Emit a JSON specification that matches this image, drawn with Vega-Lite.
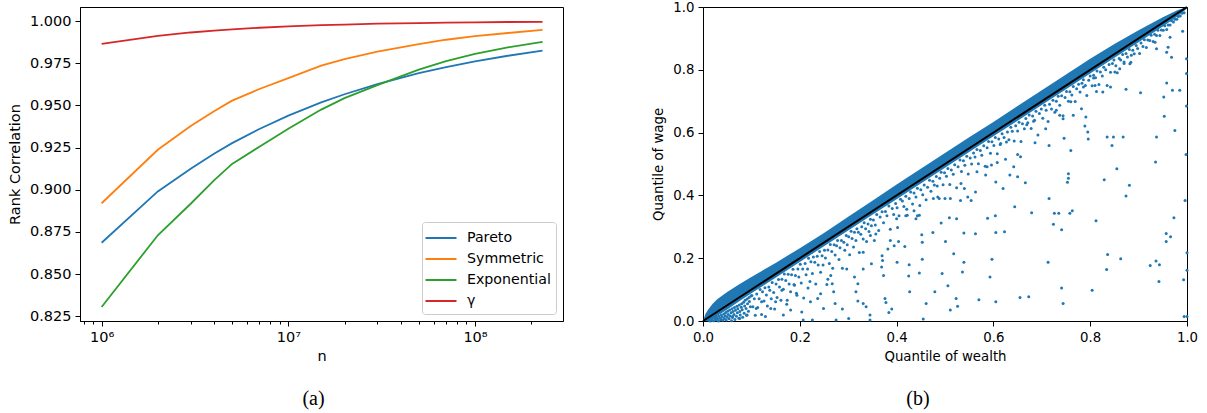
{
  "$schema": "https://vega.github.io/schema/vega-lite/v6.json",
  "background": "white",
  "padding": {"left": 6, "top": -1, "right": 5, "bottom": 5},
  "bounds": "flush",
  "spacing": 140,
  "resolve": {"scale": {"color": "independent"}, "legend": {"color": "independent"}},
  "config": {
    "font": "DejaVu Sans",
    "view": {"stroke": "black", "strokeWidth": 1},
    "axis": {
      "grid": false,
      "domainColor": "black",
      "domainWidth": 1,
      "tickColor": "black",
      "tickWidth": 1,
      "tickSize": 5,
      "labelColor": "black",
      "titleColor": "black",
      "labelFont": "DejaVu Sans",
      "titleFont": "DejaVu Sans",
      "labelFontSize": 13.3,
      "titleFontSize": 13.3,
      "titleFontWeight": "normal",
      "labelPadding": 4,
      "labelFlush": false,
      "labelOverlap": false
    },
    "title": {
      "font": "Liberation Serif",
      "fontSize": 20,
      "fontWeight": "normal",
      "color": "black",
      "orient": "bottom",
      "anchor": "middle",
      "offset": 26
    }
  },
  "hconcat": [
    {
      "width": 483,
      "height": 314,
      "title": {"text": "(a)", "dx": -8},
      "data": {
        "values": [
          {"n": 1000000, "v": 0.8686, "s": "Pareto"},
          {"n": 2000000, "v": 0.899, "s": "Pareto"},
          {"n": 3000000, "v": 0.9125, "s": "Pareto"},
          {"n": 4000000, "v": 0.9213, "s": "Pareto"},
          {"n": 5000000, "v": 0.9276, "s": "Pareto"},
          {"n": 7000000, "v": 0.936, "s": "Pareto"},
          {"n": 10000000, "v": 0.9439, "s": "Pareto"},
          {"n": 15000000, "v": 0.9518, "s": "Pareto"},
          {"n": 20000000, "v": 0.9566, "s": "Pareto"},
          {"n": 30000000, "v": 0.9626, "s": "Pareto"},
          {"n": 50000000, "v": 0.9691, "s": "Pareto"},
          {"n": 70000000, "v": 0.9727, "s": "Pareto"},
          {"n": 100000000, "v": 0.9761, "s": "Pareto"},
          {"n": 150000000, "v": 0.9794, "s": "Pareto"},
          {"n": 230000000, "v": 0.9824, "s": "Pareto"},
          {"n": 1000000, "v": 0.892, "s": "Symmetric"},
          {"n": 2000000, "v": 0.9237, "s": "Symmetric"},
          {"n": 3000000, "v": 0.9378, "s": "Symmetric"},
          {"n": 4000000, "v": 0.9465, "s": "Symmetric"},
          {"n": 5000000, "v": 0.9528, "s": "Symmetric"},
          {"n": 7000000, "v": 0.9597, "s": "Symmetric"},
          {"n": 10000000, "v": 0.9662, "s": "Symmetric"},
          {"n": 15000000, "v": 0.9735, "s": "Symmetric"},
          {"n": 20000000, "v": 0.9774, "s": "Symmetric"},
          {"n": 30000000, "v": 0.9819, "s": "Symmetric"},
          {"n": 50000000, "v": 0.9863, "s": "Symmetric"},
          {"n": 70000000, "v": 0.9889, "s": "Symmetric"},
          {"n": 100000000, "v": 0.991, "s": "Symmetric"},
          {"n": 150000000, "v": 0.9929, "s": "Symmetric"},
          {"n": 230000000, "v": 0.9947, "s": "Symmetric"},
          {"n": 1000000, "v": 0.8305, "s": "Exponential"},
          {"n": 2000000, "v": 0.873, "s": "Exponential"},
          {"n": 3000000, "v": 0.8917, "s": "Exponential"},
          {"n": 4000000, "v": 0.9056, "s": "Exponential"},
          {"n": 5000000, "v": 0.9153, "s": "Exponential"},
          {"n": 7000000, "v": 0.9255, "s": "Exponential"},
          {"n": 10000000, "v": 0.9362, "s": "Exponential"},
          {"n": 15000000, "v": 0.9475, "s": "Exponential"},
          {"n": 20000000, "v": 0.9543, "s": "Exponential"},
          {"n": 30000000, "v": 0.962, "s": "Exponential"},
          {"n": 50000000, "v": 0.9712, "s": "Exponential"},
          {"n": 70000000, "v": 0.9762, "s": "Exponential"},
          {"n": 100000000, "v": 0.9805, "s": "Exponential"},
          {"n": 150000000, "v": 0.9844, "s": "Exponential"},
          {"n": 230000000, "v": 0.9876, "s": "Exponential"},
          {"n": 1000000, "v": 0.9865, "s": "γ"},
          {"n": 2000000, "v": 0.9912, "s": "γ"},
          {"n": 3000000, "v": 0.9932, "s": "γ"},
          {"n": 4000000, "v": 0.9943, "s": "γ"},
          {"n": 5000000, "v": 0.995, "s": "γ"},
          {"n": 7000000, "v": 0.996, "s": "γ"},
          {"n": 10000000, "v": 0.9968, "s": "γ"},
          {"n": 15000000, "v": 0.9975, "s": "γ"},
          {"n": 20000000, "v": 0.9979, "s": "γ"},
          {"n": 30000000, "v": 0.9984, "s": "γ"},
          {"n": 50000000, "v": 0.9988, "s": "γ"},
          {"n": 70000000, "v": 0.999, "s": "γ"},
          {"n": 100000000, "v": 0.9992, "s": "γ"},
          {"n": 150000000, "v": 0.9994, "s": "γ"},
          {"n": 230000000, "v": 0.9995, "s": "γ"}
        ]
      },
      "mark": {"type": "line", "strokeWidth": 1.8, "clip": true},
      "encoding": {
        "x": {
          "field": "n",
          "type": "quantitative",
          "scale": {"type": "log", "domain": [766000, 296000000], "nice": false},
          "axis": {
            "title": "n",
            "titlePadding": 6,
            "labelFontSize": 14.5,
            "titleFontSize": 14.5,
            "values": [800000, 900000, 1000000, 2000000, 3000000, 4000000, 5000000, 6000000, 7000000, 8000000, 9000000, 10000000, 20000000, 30000000, 40000000, 50000000, 60000000, 70000000, 80000000, 90000000, 100000000, 200000000],
            "labelExpr": "datum.value == 1000000 ? '10⁶' : datum.value == 10000000 ? '10⁷' : datum.value == 100000000 ? '10⁸' : ''",
            "tickSize": {"condition": {"test": "datum.value == 1000000 || datum.value == 10000000 || datum.value == 100000000", "value": 5}, "value": 3}
          }
        },
        "y": {
          "field": "v",
          "type": "quantitative",
          "scale": {"domain": [0.8222, 1.0083], "nice": false, "zero": false},
          "axis": {
            "title": "Rank Correlation",
            "titlePadding": 7,
            "labelFontSize": 14.5,
            "titleFontSize": 14.5,
            "values": [0.825, 0.85, 0.875, 0.9, 0.925, 0.95, 0.975, 1.0],
            "format": ".3f"
          }
        },
        "color": {
          "field": "s",
          "type": "nominal",
          "scale": {
            "domain": ["Pareto", "Symmetric", "Exponential", "γ"],
            "range": ["#1f77b4", "#ff7f0e", "#2ca02c", "#d62728"]
          },
          "legend": {
            "title": null,
            "orient": "bottom-right",
            "offset": 7,
            "padding": 5,
            "strokeColor": "#cccccc",
            "fillColor": "rgba(255,255,255,0.8)",
            "cornerRadius": 3,
            "labelFont": "DejaVu Sans",
            "labelFontSize": 14.2,
            "labelColor": "black",
            "labelOffset": 15,
            "symbolType": "M-1.55,0H1.55",
            "symbolSize": 400,
            "symbolOffset": 3,
            "symbolStrokeWidth": 2,
            "rowPadding": 2
          }
        }
      }
    },
    {
      "width": 484,
      "height": 314,
      "title": {"text": "(b)", "dx": -27},
      "layer": [
        {
          "data": {
            "values": [
              {"wealth": 0, "top": 0, "bottom": 0},
              {"wealth": 0.005, "top": 0.022, "bottom": 0},
              {"wealth": 0.01, "top": 0.035, "bottom": 0},
              {"wealth": 0.02, "top": 0.055, "bottom": 0.006},
              {"wealth": 0.03, "top": 0.07, "bottom": 0.017},
              {"wealth": 0.05, "top": 0.092, "bottom": 0.037},
              {"wealth": 0.075, "top": 0.117, "bottom": 0.063},
              {"wealth": 0.1, "top": 0.14, "bottom": 0.088},
              {"wealth": 0.15, "top": 0.185, "bottom": 0.138},
              {"wealth": 0.2, "top": 0.232, "bottom": 0.188},
              {"wealth": 0.25, "top": 0.28, "bottom": 0.238},
              {"wealth": 0.3, "top": 0.332, "bottom": 0.288},
              {"wealth": 0.35, "top": 0.383, "bottom": 0.338},
              {"wealth": 0.4, "top": 0.435, "bottom": 0.388},
              {"wealth": 0.45, "top": 0.485, "bottom": 0.438},
              {"wealth": 0.5, "top": 0.535, "bottom": 0.488},
              {"wealth": 0.55, "top": 0.585, "bottom": 0.538},
              {"wealth": 0.6, "top": 0.634, "bottom": 0.588},
              {"wealth": 0.65, "top": 0.685, "bottom": 0.638},
              {"wealth": 0.7, "top": 0.735, "bottom": 0.688},
              {"wealth": 0.75, "top": 0.785, "bottom": 0.738},
              {"wealth": 0.8, "top": 0.835, "bottom": 0.788},
              {"wealth": 0.85, "top": 0.882, "bottom": 0.838},
              {"wealth": 0.9, "top": 0.926, "bottom": 0.888},
              {"wealth": 0.95, "top": 0.967, "bottom": 0.938},
              {"wealth": 0.98, "top": 0.99, "bottom": 0.97},
              {"wealth": 1.0, "top": 1.0, "bottom": 0.995}
            ]
          },
          "mark": {"type": "area", "color": "#1f77b4", "opacity": 1},
          "encoding": {
            "x": {"field": "wealth", "type": "quantitative"},
            "y": {"field": "top", "type": "quantitative"},
            "y2": {"field": "bottom"}
          }
        },
        {
          "data": {
            "values": [
              {"wealth": 0.973, "wage": 0.329}, {"wealth": 0.957, "wage": 0.279}, {"wealth": 0.957, "wage": 0.253}, {"wealth": 0.966, "wage": 0.268},
              {"wealth": 1.0, "wage": 0.217}, {"wealth": 0.993, "wage": 0.131}, {"wealth": 1.0, "wage": 0.162}, {"wealth": 0.994, "wage": 0.014},
              {"wealth": 1.0, "wage": 0.014}, {"wealth": 0.943, "wage": 0.179}, {"wealth": 0.924, "wage": 0.177}, {"wealth": 0.936, "wage": 0.191},
              {"wealth": 0.942, "wage": 0.126}, {"wealth": 0.863, "wage": 0.198}, {"wealth": 0.836, "wage": 0.212}, {"wealth": 0.812, "wage": 0.319},
              {"wealth": 0.834, "wage": 0.164}, {"wealth": 0.804, "wage": 0.098}, {"wealth": 0.763, "wage": 0.351}, {"wealth": 0.758, "wage": 0.343},
              {"wealth": 0.741, "wage": 0.291}, {"wealth": 0.724, "wage": 0.308}, {"wealth": 0.726, "wage": 0.343}, {"wealth": 0.735, "wage": 0.343},
              {"wealth": 0.679, "wage": 0.345}, {"wealth": 0.713, "wage": 0.187}, {"wealth": 0.741, "wage": 0.105}, {"wealth": 0.744, "wage": 0.056},
              {"wealth": 0.673, "wage": 0.077}, {"wealth": 0.655, "wage": 0.075}, {"wealth": 0.644, "wage": 0.364}, {"wealth": 0.623, "wage": 0.284},
              {"wealth": 0.605, "wage": 0.282}, {"wealth": 0.605, "wage": 0.061}, {"wealth": 0.604, "wage": 0.335}, {"wealth": 0.588, "wage": 0.327},
              {"wealth": 0.597, "wage": 0.197}, {"wealth": 0.593, "wage": 0.14}, {"wealth": 0.57, "wage": 0.068}, {"wealth": 0.563, "wage": 0.278},
              {"wealth": 0.539, "wage": 0.28}, {"wealth": 0.539, "wage": 0.187}, {"wealth": 0.536, "wage": 0.156}, {"wealth": 0.524, "wage": 0.326},
              {"wealth": 0.518, "wage": 0.214}, {"wealth": 0.523, "wage": 0.072}, {"wealth": 0.526, "wage": 0.047}, {"wealth": 0.511, "wage": 0.035},
              {"wealth": 0.509, "wage": 0.329}, {"wealth": 0.506, "wage": 0.112}, {"wealth": 0.501, "wage": 0.253}, {"wealth": 0.494, "wage": 0.151},
              {"wealth": 0.492, "wage": 0.312}, {"wealth": 0.479, "wage": 0.093}, {"wealth": 0.475, "wage": 0.282}, {"wealth": 0.461, "wage": 0.056},
              {"wealth": 0.455, "wage": 0.006}, {"wealth": 0.453, "wage": 0.197}, {"wealth": 0.453, "wage": 0.251}, {"wealth": 0.452, "wage": 0.275},
              {"wealth": 0.447, "wage": 0.153}, {"wealth": 0.448, "wage": 0.368}, {"wealth": 0.436, "wage": 0.351}, {"wealth": 0.426, "wage": 0.179},
              {"wealth": 0.427, "wage": 0.093}, {"wealth": 0.425, "wage": 0.143}, {"wealth": 0.443, "wage": 0.335}, {"wealth": 0.419, "wage": 0.335},
              {"wealth": 0.44, "wage": 0.326}, {"wealth": 0.421, "wage": 0.356}, {"wealth": 0.417, "wage": 0.237}, {"wealth": 0.401, "wage": 0.187},
              {"wealth": 0.404, "wage": 0.253}, {"wealth": 0.402, "wage": 0.298}, {"wealth": 0.4, "wage": 0.326}, {"wealth": 0.395, "wage": 0.24},
              {"wealth": 0.39, "wage": 0.038}, {"wealth": 0.387, "wage": 0.256}, {"wealth": 0.382, "wage": 0.229}, {"wealth": 0.378, "wage": 0.059},
              {"wealth": 0.376, "wage": 0.072}, {"wealth": 0.384, "wage": 0.027}, {"wealth": 0.373, "wage": 0.145}, {"wealth": 0.369, "wage": 0.172},
              {"wealth": 0.37, "wage": 0.208}, {"wealth": 0.371, "wage": 0.193}, {"wealth": 0.345, "wage": 0.003}, {"wealth": 0.345, "wage": 0.019},
              {"wealth": 0.337, "wage": 0.045}, {"wealth": 0.331, "wage": 0.056}, {"wealth": 0.32, "wage": 0.064}, {"wealth": 0.32, "wage": 0.119},
              {"wealth": 0.331, "wage": 0.166}, {"wealth": 0.348, "wage": 0.182}, {"wealth": 0.354, "wage": 0.256}, {"wealth": 0.357, "wage": 0.277},
              {"wealth": 0.346, "wage": 0.272}, {"wealth": 0.331, "wage": 0.219}, {"wealth": 0.316, "wage": 0.093}, {"wealth": 0.313, "wage": 0.14},
              {"wealth": 0.297, "wage": 0.166}, {"wealth": 0.301, "wage": 0.008}, {"wealth": 0.288, "wage": 0.038}, {"wealth": 0.275, "wage": 0.003},
              {"wealth": 0.273, "wage": 0.056}, {"wealth": 0.27, "wage": 0.093}, {"wealth": 0.264, "wage": 0.145}, {"wealth": 0.267, "wage": 0.119},
              {"wealth": 0.258, "wage": 0.133}, {"wealth": 0.249, "wage": 0.04}, {"wealth": 0.243, "wage": 0.087}, {"wealth": 0.237, "wage": 0.072},
              {"wealth": 0.226, "wage": 0.003}, {"wealth": 0.222, "wage": 0.061}, {"wealth": 0.217, "wage": 0.105}, {"wealth": 0.207, "wage": 0.003},
              {"wealth": 0.204, "wage": 0.029}, {"wealth": 0.194, "wage": 0.082}, {"wealth": 0.189, "wage": 0.114}, {"wealth": 0.181, "wage": 0.035},
              {"wealth": 0.174, "wage": 0.066}, {"wealth": 0.166, "wage": 0.019}, {"wealth": 0.163, "wage": 0.098}, {"wealth": 0.15, "wage": 0.061},
              {"wealth": 0.14, "wage": 0.04}, {"wealth": 0.129, "wage": 0.014}, {"wealth": 0.121, "wage": 0.061}, {"wealth": 0.11, "wage": 0.04},
              {"wealth": 0.091, "wage": 0.019}, {"wealth": 0.076, "wage": 0.008}, {"wealth": 0.061, "wage": 0.014},
              {"wealth": 0.991, "wage": 0.923}, {"wealth": 0.999, "wage": 0.835}, {"wealth": 0.999, "wage": 0.788}, {"wealth": 0.999, "wage": 0.685},
              {"wealth": 0.998, "wage": 0.53}, {"wealth": 0.996, "wage": 0.384}, {"wealth": 0.985, "wage": 0.735}, {"wealth": 0.97, "wage": 0.735},
              {"wealth": 0.975, "wage": 0.607}, {"wealth": 0.958, "wage": 0.758}, {"wealth": 0.952, "wage": 0.713}, {"wealth": 0.953, "wage": 0.652},
              {"wealth": 0.937, "wage": 0.586}, {"wealth": 0.935, "wage": 0.506}, {"wealth": 0.961, "wage": 0.872}, {"wealth": 0.965, "wage": 0.904},
              {"wealth": 0.958, "wage": 0.856}, {"wealth": 0.968, "wage": 0.84}, {"wealth": 0.934, "wage": 0.888}, {"wealth": 0.937, "wage": 0.867},
              {"wealth": 0.904, "wage": 0.727}, {"wealth": 0.874, "wage": 0.738}, {"wealth": 0.881, "wage": 0.432}, {"wealth": 0.874, "wage": 0.398},
              {"wealth": 0.829, "wage": 0.45}, {"wealth": 0.855, "wage": 0.485}, {"wealth": 0.848, "wage": 0.586}, {"wealth": 0.868, "wage": 0.586},
              {"wealth": 0.835, "wage": 0.586}, {"wealth": 0.845, "wage": 0.559}, {"wealth": 0.882, "wage": 0.819}, {"wealth": 0.885, "wage": 0.846},
              {"wealth": 0.87, "wage": 0.825}, {"wealth": 0.861, "wage": 0.803}, {"wealth": 0.851, "wage": 0.793}, {"wealth": 0.842, "wage": 0.745},
              {"wealth": 0.826, "wage": 0.729}, {"wealth": 0.813, "wage": 0.731}, {"wealth": 0.81, "wage": 0.75}, {"wealth": 0.807, "wage": 0.774},
              {"wealth": 0.786, "wage": 0.745}, {"wealth": 0.782, "wage": 0.676}, {"wealth": 0.791, "wage": 0.65}, {"wealth": 0.789, "wage": 0.621},
              {"wealth": 0.795, "wage": 0.602}, {"wealth": 0.796, "wage": 0.58}, {"wealth": 0.765, "wage": 0.655}, {"wealth": 0.76, "wage": 0.698},
              {"wealth": 0.744, "wage": 0.644}, {"wealth": 0.746, "wage": 0.582}, {"wealth": 0.76, "wage": 0.543}, {"wealth": 0.755, "wage": 0.469},
              {"wealth": 0.755, "wage": 0.455}, {"wealth": 0.753, "wage": 0.442}, {"wealth": 0.715, "wage": 0.559}, {"wealth": 0.708, "wage": 0.612},
              {"wealth": 0.715, "wage": 0.39}, {"wealth": 0.73, "wage": 0.671}, {"wealth": 0.737, "wage": 0.655}, {"wealth": 0.683, "wage": 0.636},
              {"wealth": 0.686, "wage": 0.568}, {"wealth": 0.669, "wage": 0.625}, {"wealth": 0.666, "wage": 0.44}, {"wealth": 0.656, "wage": 0.523},
              {"wealth": 0.65, "wage": 0.53}, {"wealth": 0.642, "wage": 0.491}, {"wealth": 0.65, "wage": 0.459}, {"wealth": 0.62, "wage": 0.422},
              {"wealth": 0.634, "wage": 0.465}, {"wealth": 0.614, "wage": 0.562}, {"wealth": 0.627, "wage": 0.57}, {"wealth": 0.605, "wage": 0.443},
              {"wealth": 0.608, "wage": 0.505}, {"wealth": 0.596, "wage": 0.497}, {"wealth": 0.587, "wage": 0.491}, {"wealth": 0.584, "wage": 0.465},
              {"wealth": 0.563, "wage": 0.411}, {"wealth": 0.566, "wage": 0.475}, {"wealth": 0.554, "wage": 0.384}, {"wealth": 0.547, "wage": 0.395},
              {"wealth": 0.54, "wage": 0.422}, {"wealth": 0.533, "wage": 0.438}, {"wealth": 0.532, "wage": 0.384}, {"wealth": 0.511, "wage": 0.39},
              {"wealth": 0.5, "wage": 0.39}, {"wealth": 0.484, "wage": 0.43}, {"wealth": 0.476, "wage": 0.39}, {"wealth": 0.488, "wage": 0.39},
              {"wealth": 0.012, "wage": 0.002}, {"wealth": 0.015, "wage": 0.0}, {"wealth": 0.018, "wage": 0.004}, {"wealth": 0.021, "wage": 0.001},
              {"wealth": 0.024, "wage": 0.008}, {"wealth": 0.026, "wage": 0.003}, {"wealth": 0.028, "wage": 0.012}, {"wealth": 0.03, "wage": 0.006},
              {"wealth": 0.032, "wage": 0.0}, {"wealth": 0.033, "wage": 0.015}, {"wealth": 0.035, "wage": 0.009}, {"wealth": 0.037, "wage": 0.004},
              {"wealth": 0.038, "wage": 0.019}, {"wealth": 0.04, "wage": 0.013}, {"wealth": 0.041, "wage": 0.002}, {"wealth": 0.043, "wage": 0.022},
              {"wealth": 0.044, "wage": 0.008}, {"wealth": 0.046, "wage": 0.017}, {"wealth": 0.047, "wage": 0.027}, {"wealth": 0.048, "wage": 0.003},
              {"wealth": 0.05, "wage": 0.012}, {"wealth": 0.051, "wage": 0.031}, {"wealth": 0.052, "wage": 0.021}, {"wealth": 0.054, "wage": 0.007},
              {"wealth": 0.055, "wage": 0.035}, {"wealth": 0.056, "wage": 0.016}, {"wealth": 0.058, "wage": 0.026}, {"wealth": 0.059, "wage": 0.001},
              {"wealth": 0.06, "wage": 0.039}, {"wealth": 0.061, "wage": 0.011}, {"wealth": 0.062, "wage": 0.03}, {"wealth": 0.064, "wage": 0.021},
              {"wealth": 0.065, "wage": 0.043}, {"wealth": 0.066, "wage": 0.005}, {"wealth": 0.067, "wage": 0.034}, {"wealth": 0.069, "wage": 0.015},
              {"wealth": 0.07, "wage": 0.047}, {"wealth": 0.071, "wage": 0.026}, {"wealth": 0.072, "wage": 0.039}, {"wealth": 0.074, "wage": 0.009},
              {"wealth": 0.075, "wage": 0.051}, {"wealth": 0.076, "wage": 0.03}, {"wealth": 0.077, "wage": 0.019}, {"wealth": 0.079, "wage": 0.044},
              {"wealth": 0.08, "wage": 0.055}, {"wealth": 0.081, "wage": 0.036}, {"wealth": 0.082, "wage": 0.012}, {"wealth": 0.084, "wage": 0.06},
              {"wealth": 0.085, "wage": 0.025}, {"wealth": 0.086, "wage": 0.048}, {"wealth": 0.087, "wage": 0.066}, {"wealth": 0.089, "wage": 0.04},
              {"wealth": 0.09, "wage": 0.018}, {"wealth": 0.091, "wage": 0.07}, {"wealth": 0.092, "wage": 0.055}, {"wealth": 0.094, "wage": 0.031},
              {"wealth": 0.095, "wage": 0.075}, {"wealth": 0.096, "wage": 0.062}, {"wealth": 0.098, "wage": 0.045}, {"wealth": 0.099, "wage": 0.08},
              {"wealth": 0.101, "wage": 0.081}, {"wealth": 0.103, "wage": 0.045}, {"wealth": 0.106, "wage": 0.071}, {"wealth": 0.108, "wage": 0.018},
              {"wealth": 0.111, "wage": 0.086}, {"wealth": 0.113, "wage": 0.043}, {"wealth": 0.116, "wage": 0.071}, {"wealth": 0.118, "wage": 0.1},
              {"wealth": 0.121, "wage": 0.021}, {"wealth": 0.123, "wage": 0.093}, {"wealth": 0.126, "wage": 0.064}, {"wealth": 0.128, "wage": 0.106},
              {"wealth": 0.131, "wage": 0.083}, {"wealth": 0.133, "wage": 0.048}, {"wealth": 0.136, "wage": 0.108}, {"wealth": 0.138, "wage": 0.098},
              {"wealth": 0.141, "wage": 0.071}, {"wealth": 0.143, "wage": 0.123}, {"wealth": 0.146, "wage": 0.091}, {"wealth": 0.148, "wage": 0.038},
              {"wealth": 0.151, "wage": 0.118}, {"wealth": 0.153, "wage": 0.075}, {"wealth": 0.156, "wage": 0.132}, {"wealth": 0.158, "wage": 0.108},
              {"wealth": 0.161, "wage": 0.066}, {"wealth": 0.163, "wage": 0.133}, {"wealth": 0.166, "wage": 0.101}, {"wealth": 0.168, "wage": 0.15},
              {"wealth": 0.171, "wage": 0.129}, {"wealth": 0.173, "wage": 0.053}, {"wealth": 0.176, "wage": 0.149}, {"wealth": 0.178, "wage": 0.118},
              {"wealth": 0.181, "wage": 0.093}, {"wealth": 0.183, "wage": 0.147}, {"wealth": 0.186, "wage": 0.165}, {"wealth": 0.188, "wage": 0.116},
              {"wealth": 0.191, "wage": 0.145}, {"wealth": 0.193, "wage": 0.088}, {"wealth": 0.196, "wage": 0.166}, {"wealth": 0.198, "wage": 0.14},
              {"wealth": 0.201, "wage": 0.181}, {"wealth": 0.203, "wage": 0.121}, {"wealth": 0.206, "wage": 0.166}, {"wealth": 0.208, "wage": 0.073},
              {"wealth": 0.211, "wage": 0.183}, {"wealth": 0.213, "wage": 0.147}, {"wealth": 0.216, "wage": 0.166}, {"wealth": 0.218, "wage": 0.2},
              {"wealth": 0.221, "wage": 0.126}, {"wealth": 0.223, "wage": 0.189}, {"wealth": 0.226, "wage": 0.151}, {"wealth": 0.228, "wage": 0.204},
              {"wealth": 0.231, "wage": 0.187}, {"wealth": 0.233, "wage": 0.118}, {"wealth": 0.236, "wage": 0.206}, {"wealth": 0.238, "wage": 0.178},
              {"wealth": 0.241, "wage": 0.221}, {"wealth": 0.243, "wage": 0.155}, {"wealth": 0.246, "wage": 0.208}, {"wealth": 0.248, "wage": 0.178},
              {"wealth": 0.251, "wage": 0.225}, {"wealth": 0.253, "wage": 0.201}, {"wealth": 0.256, "wage": 0.116}, {"wealth": 0.258, "wage": 0.226},
              {"wealth": 0.261, "wage": 0.183}, {"wealth": 0.263, "wage": 0.244}, {"wealth": 0.266, "wage": 0.221}, {"wealth": 0.268, "wage": 0.168},
              {"wealth": 0.271, "wage": 0.243}, {"wealth": 0.273, "wage": 0.21}, {"wealth": 0.276, "wage": 0.24}, {"wealth": 0.278, "wage": 0.256},
              {"wealth": 0.281, "wage": 0.196}, {"wealth": 0.283, "wage": 0.233}, {"wealth": 0.286, "wage": 0.256}, {"wealth": 0.288, "wage": 0.168},
              {"wealth": 0.291, "wage": 0.251}, {"wealth": 0.293, "wage": 0.225}, {"wealth": 0.296, "wage": 0.272}, {"wealth": 0.298, "wage": 0.243},
              {"wealth": 0.301, "wage": 0.268}, {"wealth": 0.303, "wage": 0.211}, {"wealth": 0.306, "wage": 0.286}, {"wealth": 0.308, "wage": 0.263},
              {"wealth": 0.311, "wage": 0.236}, {"wealth": 0.313, "wage": 0.283}, {"wealth": 0.316, "wage": 0.256}, {"wealth": 0.318, "wage": 0.294},
              {"wealth": 0.321, "wage": 0.283}, {"wealth": 0.323, "wage": 0.218}, {"wealth": 0.326, "wage": 0.276}, {"wealth": 0.328, "wage": 0.3},
              {"wealth": 0.331, "wage": 0.261}, {"wealth": 0.333, "wage": 0.313}, {"wealth": 0.336, "wage": 0.294}, {"wealth": 0.338, "wage": 0.253},
              {"wealth": 0.341, "wage": 0.309}, {"wealth": 0.343, "wage": 0.285}, {"wealth": 0.346, "wage": 0.324}, {"wealth": 0.348, "wage": 0.303},
              {"wealth": 0.352, "wage": 0.322}, {"wealth": 0.356, "wage": 0.306}, {"wealth": 0.359, "wage": 0.339}, {"wealth": 0.363, "wage": 0.288},
              {"wealth": 0.366, "wage": 0.331}, {"wealth": 0.37, "wage": 0.348}, {"wealth": 0.373, "wage": 0.313}, {"wealth": 0.377, "wage": 0.349},
              {"wealth": 0.38, "wage": 0.335}, {"wealth": 0.384, "wage": 0.366}, {"wealth": 0.387, "wage": 0.292}, {"wealth": 0.391, "wage": 0.358},
              {"wealth": 0.394, "wage": 0.339}, {"wealth": 0.398, "wage": 0.374}, {"wealth": 0.401, "wage": 0.361}, {"wealth": 0.405, "wage": 0.335},
              {"wealth": 0.408, "wage": 0.388}, {"wealth": 0.412, "wage": 0.382}, {"wealth": 0.415, "wage": 0.365}, {"wealth": 0.419, "wage": 0.397},
              {"wealth": 0.422, "wage": 0.337}, {"wealth": 0.426, "wage": 0.39}, {"wealth": 0.429, "wage": 0.411}, {"wealth": 0.433, "wage": 0.373},
              {"wealth": 0.436, "wage": 0.408}, {"wealth": 0.44, "wage": 0.395}, {"wealth": 0.443, "wage": 0.423}, {"wealth": 0.447, "wage": 0.337},
              {"wealth": 0.45, "wage": 0.418}, {"wealth": 0.454, "wage": 0.402}, {"wealth": 0.457, "wage": 0.433}, {"wealth": 0.461, "wage": 0.386},
              {"wealth": 0.464, "wage": 0.426}, {"wealth": 0.468, "wage": 0.448}, {"wealth": 0.471, "wage": 0.413}, {"wealth": 0.475, "wage": 0.445},
              {"wealth": 0.478, "wage": 0.433}, {"wealth": 0.482, "wage": 0.46}, {"wealth": 0.485, "wage": 0.395}, {"wealth": 0.489, "wage": 0.455},
              {"wealth": 0.492, "wage": 0.474}, {"wealth": 0.496, "wage": 0.434}, {"wealth": 0.499, "wage": 0.472}, {"wealth": 0.503, "wage": 0.461},
              {"wealth": 0.506, "wage": 0.486}, {"wealth": 0.51, "wage": 0.435}, {"wealth": 0.513, "wage": 0.481}, {"wealth": 0.517, "wage": 0.467},
              {"wealth": 0.52, "wage": 0.498}, {"wealth": 0.524, "wage": 0.424}, {"wealth": 0.527, "wage": 0.491}, {"wealth": 0.531, "wage": 0.513},
              {"wealth": 0.534, "wage": 0.476}, {"wealth": 0.538, "wage": 0.51}, {"wealth": 0.541, "wage": 0.496}, {"wealth": 0.545, "wage": 0.525},
              {"wealth": 0.548, "wage": 0.468}, {"wealth": 0.552, "wage": 0.519}, {"wealth": 0.555, "wage": 0.5}, {"wealth": 0.559, "wage": 0.535},
              {"wealth": 0.562, "wage": 0.522}, {"wealth": 0.566, "wage": 0.546}, {"wealth": 0.569, "wage": 0.501}, {"wealth": 0.573, "wage": 0.543},
              {"wealth": 0.576, "wage": 0.528}, {"wealth": 0.58, "wage": 0.558}, {"wealth": 0.583, "wage": 0.493}, {"wealth": 0.587, "wage": 0.552},
              {"wealth": 0.59, "wage": 0.572}, {"wealth": 0.594, "wage": 0.534}, {"wealth": 0.597, "wage": 0.571}, {"wealth": 0.601, "wage": 0.559},
              {"wealth": 0.604, "wage": 0.584}, {"wealth": 0.608, "wage": 0.533}, {"wealth": 0.611, "wage": 0.58}, {"wealth": 0.615, "wage": 0.565},
              {"wealth": 0.618, "wage": 0.596}, {"wealth": 0.622, "wage": 0.584}, {"wealth": 0.625, "wage": 0.515}, {"wealth": 0.629, "wage": 0.602},
              {"wealth": 0.632, "wage": 0.577}, {"wealth": 0.636, "wage": 0.617}, {"wealth": 0.639, "wage": 0.604}, {"wealth": 0.643, "wage": 0.573},
              {"wealth": 0.646, "wage": 0.622}, {"wealth": 0.65, "wage": 0.605}, {"wealth": 0.653, "wage": 0.633}, {"wealth": 0.657, "wage": 0.572},
              {"wealth": 0.66, "wage": 0.628}, {"wealth": 0.664, "wage": 0.612}, {"wealth": 0.667, "wage": 0.645}, {"wealth": 0.671, "wage": 0.631},
              {"wealth": 0.674, "wage": 0.656}, {"wealth": 0.678, "wage": 0.613}, {"wealth": 0.681, "wage": 0.653}, {"wealth": 0.685, "wage": 0.639},
              {"wealth": 0.688, "wage": 0.668}, {"wealth": 0.692, "wage": 0.592}, {"wealth": 0.695, "wage": 0.661}, {"wealth": 0.699, "wage": 0.675},
              {"wealth": 0.702, "wage": 0.646}, {"wealth": 0.706, "wage": 0.687}, {"wealth": 0.709, "wage": 0.671}, {"wealth": 0.713, "wage": 0.635},
              {"wealth": 0.716, "wage": 0.69}, {"wealth": 0.72, "wage": 0.675}, {"wealth": 0.723, "wage": 0.703}, {"wealth": 0.727, "wage": 0.665},
              {"wealth": 0.73, "wage": 0.7}, {"wealth": 0.734, "wage": 0.716}, {"wealth": 0.737, "wage": 0.687}, {"wealth": 0.741, "wage": 0.717},
              {"wealth": 0.744, "wage": 0.654}, {"wealth": 0.748, "wage": 0.712}, {"wealth": 0.751, "wage": 0.731}, {"wealth": 0.755, "wage": 0.7},
              {"wealth": 0.758, "wage": 0.73}, {"wealth": 0.762, "wage": 0.72}, {"wealth": 0.765, "wage": 0.747}, {"wealth": 0.769, "wage": 0.699},
              {"wealth": 0.772, "wage": 0.74}, {"wealth": 0.776, "wage": 0.754}, {"wealth": 0.779, "wage": 0.729}, {"wealth": 0.783, "wage": 0.757},
              {"wealth": 0.786, "wage": 0.768}, {"wealth": 0.79, "wage": 0.75}, {"wealth": 0.793, "wage": 0.718}, {"wealth": 0.797, "wage": 0.767},
              {"wealth": 0.8, "wage": 0.78}, {"wealth": 0.804, "wage": 0.749}, {"wealth": 0.807, "wage": 0.783}, {"wealth": 0.811, "wage": 0.775},
              {"wealth": 0.814, "wage": 0.796}, {"wealth": 0.818, "wage": 0.753}, {"wealth": 0.821, "wage": 0.793}, {"wealth": 0.825, "wage": 0.78},
              {"wealth": 0.828, "wage": 0.808}, {"wealth": 0.832, "wage": 0.8}, {"wealth": 0.835, "wage": 0.75}, {"wealth": 0.839, "wage": 0.817},
              {"wealth": 0.842, "wage": 0.792}, {"wealth": 0.846, "wage": 0.82}, {"wealth": 0.849, "wage": 0.831}, {"wealth": 0.853, "wage": 0.813},
              {"wealth": 0.856, "wage": 0.791}, {"wealth": 0.86, "wage": 0.836}, {"wealth": 0.863, "wage": 0.831}, {"wealth": 0.867, "wage": 0.849},
              {"wealth": 0.87, "wage": 0.82}, {"wealth": 0.874, "wage": 0.852}, {"wealth": 0.877, "wage": 0.841}, {"wealth": 0.881, "wage": 0.865},
              {"wealth": 0.884, "wage": 0.824}, {"wealth": 0.888, "wage": 0.862}, {"wealth": 0.891, "wage": 0.851}, {"wealth": 0.895, "wage": 0.877},
              {"wealth": 0.898, "wage": 0.868}, {"wealth": 0.902, "wage": 0.852}, {"wealth": 0.905, "wage": 0.885}, {"wealth": 0.909, "wage": 0.874},
              {"wealth": 0.912, "wage": 0.896}, {"wealth": 0.916, "wage": 0.871}, {"wealth": 0.919, "wage": 0.895}, {"wealth": 0.923, "wage": 0.893},
              {"wealth": 0.926, "wage": 0.91}, {"wealth": 0.93, "wage": 0.89}, {"wealth": 0.933, "wage": 0.913}, {"wealth": 0.937, "wage": 0.909},
              {"wealth": 0.94, "wage": 0.926}, {"wealth": 0.944, "wage": 0.909}, {"wealth": 0.947, "wage": 0.927}, {"wealth": 0.951, "wage": 0.926},
              {"wealth": 0.954, "wage": 0.94}, {"wealth": 0.958, "wage": 0.928}, {"wealth": 0.961, "wage": 0.943}, {"wealth": 0.965, "wage": 0.943},
              {"wealth": 0.968, "wage": 0.956}, {"wealth": 0.972, "wage": 0.952}, {"wealth": 0.975, "wage": 0.961}, {"wealth": 0.979, "wage": 0.961},
              {"wealth": 0.982, "wage": 0.97}, {"wealth": 0.986, "wage": 0.971}, {"wealth": 0.99, "wage": 0.98}, {"wealth": 0.994, "wage": 0.982}
            ]
          },
          "mark": {"type": "circle", "size": 9, "color": "#1f77b4", "opacity": 1},
          "encoding": {
            "x": {"field": "wealth", "type": "quantitative"},
            "y": {"field": "wage", "type": "quantitative"}
          }
        },
        {
          "data": {"values": [{"wealth": 0, "wage": 0}, {"wealth": 1, "wage": 1}]},
          "mark": {"type": "line", "color": "black", "strokeWidth": 2},
          "encoding": {
            "x": {
              "field": "wealth",
              "type": "quantitative",
              "scale": {"domain": [0, 1], "nice": false},
              "axis": {"title": "Quantile of wealth", "titlePadding": 6, "values": [0, 0.2, 0.4, 0.6, 0.8, 1], "format": ".1f"}
            },
            "y": {
              "field": "wage",
              "type": "quantitative",
              "scale": {"domain": [0, 1], "nice": false},
              "axis": {"title": "Quantile of wage", "titlePadding": 7, "values": [0, 0.2, 0.4, 0.6, 0.8, 1], "format": ".1f"}
            }
          }
        }
      ]
    }
  ]
}
